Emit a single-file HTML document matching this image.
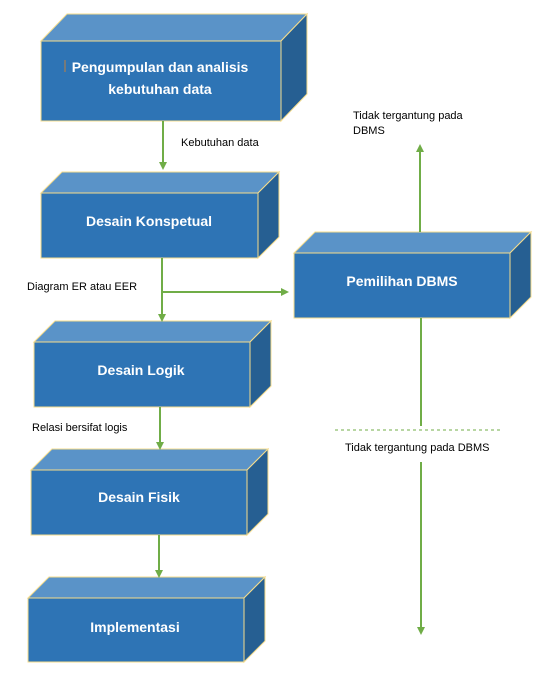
<!DOCTYPE html>
<html><head><meta charset="utf-8"><style>
html,body{margin:0;padding:0;background:#fff;}
svg{display:block;}
.t{font-family:"Liberation Sans",sans-serif;font-weight:bold;font-size:14px;fill:#fff;}
.l{font-family:"Liberation Sans",sans-serif;font-size:11px;fill:#000;}
</style></head><body>
<svg width="544" height="686" viewBox="0 0 544 686" xmlns="http://www.w3.org/2000/svg">
<defs>
<marker id="a" markerWidth="8" markerHeight="8" refX="6" refY="4" orient="auto" markerUnits="userSpaceOnUse">
<path d="M0,0 L8,4 L0,8 z" fill="#70ad47"/></marker>
</defs>
<g stroke="#f5dc8c" stroke-width="1">
<!-- box1 -->
<polygon points="41,41 67,14 307,14 281,41" fill="#5a93c8"/>
<polygon points="281,41 307,14 307,94 281,121" fill="#265f92"/>
<rect x="41" y="41" width="240" height="80" fill="#2e74b5"/>
<!-- box2 -->
<polygon points="41,193 62,172 279,172 258,193" fill="#5a93c8"/>
<polygon points="258,193 279,172 279,237 258,258" fill="#265f92"/>
<rect x="41" y="193" width="217" height="65" fill="#2e74b5"/>
<!-- box3 -->
<polygon points="294,253 315,232 531,232 510,253" fill="#5a93c8"/>
<polygon points="510,253 531,232 531,297 510,318" fill="#265f92"/>
<rect x="294" y="253" width="216" height="65" fill="#2e74b5"/>
<!-- box4 -->
<polygon points="34,342 55,321 271,321 250,342" fill="#5a93c8"/>
<polygon points="250,342 271,321 271,386 250,407" fill="#265f92"/>
<rect x="34" y="342" width="216" height="65" fill="#2e74b5"/>
<!-- box5 -->
<polygon points="31,470 52,449 268,449 247,470" fill="#5a93c8"/>
<polygon points="247,470 268,449 268,514 247,535" fill="#265f92"/>
<rect x="31" y="470" width="216" height="65" fill="#2e74b5"/>
<!-- box6 -->
<polygon points="28,598 49,577 265,577 244,598" fill="#5a93c8"/>
<polygon points="244,598 265,577 265,641 244,662" fill="#265f92"/>
<rect x="28" y="598" width="216" height="64" fill="#2e74b5"/>
</g>
<g class="t" text-anchor="middle">
<text x="160" y="72">Pengumpulan dan analisis</text>
<text x="160" y="94">kebutuhan data</text>
<text x="149" y="226">Desain Konspetual</text>
<text x="402" y="286">Pemilihan DBMS</text>
<text x="141" y="375">Desain Logik</text>
<text x="139" y="502">Desain Fisik</text>
<text x="135" y="632">Implementasi</text>
</g>
<line x1="65" y1="60" x2="65" y2="72" stroke="#c08040" stroke-width="1"/>
<g stroke="#70ad47" stroke-width="2" fill="none">
<line x1="163" y1="121" x2="163" y2="168" marker-end="url(#a)"/>
<line x1="162" y1="258" x2="162" y2="320" marker-end="url(#a)"/>
<line x1="162" y1="292" x2="287" y2="292" marker-end="url(#a)"/>
<line x1="160" y1="407" x2="160" y2="448" marker-end="url(#a)"/>
<line x1="159" y1="535" x2="159" y2="576" marker-end="url(#a)"/>
<line x1="420" y1="232" x2="420" y2="146" marker-end="url(#a)"/>
<line x1="421" y1="318" x2="421" y2="426"/>
<line x1="421" y1="462" x2="421" y2="633" marker-end="url(#a)"/>
<line x1="335" y1="430" x2="503" y2="430" stroke-width="1" stroke-dasharray="3,3"/>
</g>
<g class="l">
<text x="181" y="146">Kebutuhan data</text>
<text x="353" y="119">Tidak tergantung pada</text>
<text x="353" y="134">DBMS</text>
<text x="27" y="290">Diagram ER atau EER</text>
<text x="32" y="431">Relasi bersifat logis</text>
<text x="345" y="451">Tidak tergantung pada DBMS</text>
</g>
</svg>
</body></html>
